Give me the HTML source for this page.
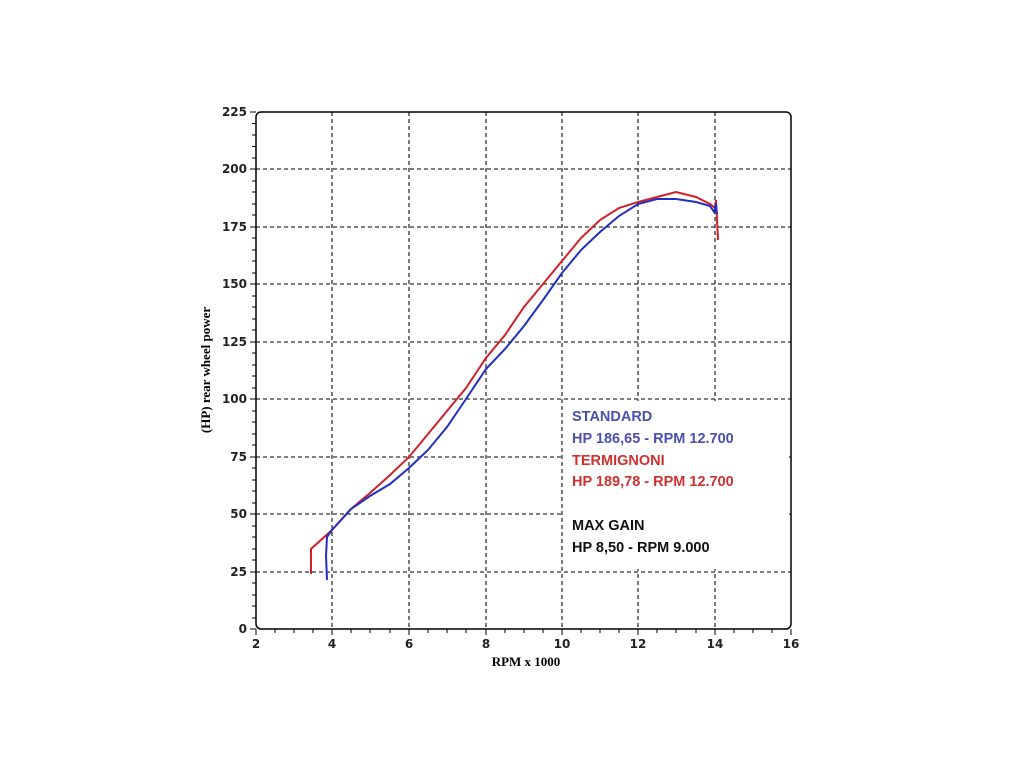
<!DOCTYPE html>
<html><head><meta charset="utf-8"><style>body{margin:0;background:#fff}svg{display:block}</style></head><body>
<svg width="1024" height="768" xmlns="http://www.w3.org/2000/svg" font-family="'DejaVu Sans','Liberation Sans',sans-serif">
<rect width="1024" height="768" fill="#fff"/>
<g stroke="#333" stroke-width="1.3" stroke-dasharray="4,3">
<line x1="332" y1="112" x2="332" y2="629"/><line x1="409" y1="112" x2="409" y2="629"/><line x1="486" y1="112" x2="486" y2="629"/><line x1="562" y1="112" x2="562" y2="629"/><line x1="638" y1="112" x2="638" y2="629"/><line x1="715" y1="112" x2="715" y2="629"/>
<line x1="256" y1="169" x2="791" y2="169"/><line x1="256" y1="227" x2="791" y2="227"/><line x1="256" y1="284" x2="791" y2="284"/><line x1="256" y1="342" x2="791" y2="342"/><line x1="256" y1="399" x2="791" y2="399"/><line x1="256" y1="457" x2="791" y2="457"/><line x1="256" y1="514" x2="791" y2="514"/><line x1="256" y1="572" x2="791" y2="572"/>
</g>
<rect x="564" y="401" width="225" height="168" fill="#fff"/>
<rect x="256" y="112" width="535" height="517" rx="5" fill="none" stroke="#000" stroke-width="1.5"/>
<g stroke="#000" stroke-width="1">
<path d="M250 112h6M250 169h6M250 227h6M250 284h6M250 342h6M250 399h6M250 457h6M250 514h6M250 572h6M250 629h6"/>
<path d="M252 123.5h4M252 135h4M252 146.5h4M252 158h4M252 181h4M252 192h4M252 204h4M252 215h4M252 238h4M252 250h4M252 261h4M252 273h4M252 296h4M252 307h4M252 319h4M252 330h4M252 353h4M252 365h4M252 376h4M252 388h4M252 411h4M252 422h4M252 434h4M252 445h4M252 468h4M252 480h4M252 491h4M252 503h4M252 526h4M252 537h4M252 549h4M252 560h4M252 583h4M252 595h4M252 606h4M252 618h4"/>
<path d="M256 629v6M332 629v6M409 629v6M486 629v6M562 629v6M638 629v6M715 629v6M791 629v6"/>
<path d="M275 629v4M294 629v4M313 629v4M351 629v4M370 629v4M390 629v4M428 629v4M447 629v4M466 629v4M505 629v4M524 629v4M543 629v4M581 629v4M600 629v4M619 629v4M657 629v4M676 629v4M696 629v4M734 629v4M753 629v4M772 629v4"/>
</g>
<g font-size="12" font-weight="bold" text-anchor="end" fill="#222">
<text x="247" y="116">225</text><text x="247" y="173">200</text><text x="247" y="231">175</text><text x="247" y="288">150</text><text x="247" y="346">125</text><text x="247" y="403">100</text><text x="247" y="461">75</text><text x="247" y="518">50</text><text x="247" y="576">25</text><text x="247" y="633">0</text>
</g>
<g font-size="12" font-weight="bold" text-anchor="middle" fill="#222">
<text x="256" y="648">2</text><text x="332" y="648">4</text><text x="409" y="648">6</text><text x="486" y="648">8</text><text x="562" y="648">10</text><text x="638" y="648">12</text><text x="715" y="648">14</text><text x="791" y="648">16</text>
</g>
<text x="526" y="666" font-family="'Liberation Serif',serif" font-size="13" font-weight="bold" text-anchor="middle">RPM x 1000</text>
<text transform="translate(210,370) rotate(-90)" font-family="'Liberation Serif',serif" font-size="13" font-weight="bold" text-anchor="middle">(HP) rear wheel power</text>
<polyline fill="none" stroke="#d0202a" stroke-width="2" points="311,574 311,549 332,530 351,509 370,493 390,475 409,457 428,434 447,411 466,388 486,358 505,335 524,307 543,284 562,261 581,238 600,220 619,208 638,202 657,197 676,192 696,197 710,204 715,208 716,200 718,240"/>
<polyline fill="none" stroke="#2030c0" stroke-width="2" points="327,580 326,556 327,537 332,530 351,509 370,496 390,484 409,468 428,450 447,427 466,399 486,369 505,349 524,326 543,300 562,273 581,250 600,232 619,216 638,204 657,199 676,199 696,202 710,206 714,212 716,204 717,214"/>
<g font-family="'Liberation Sans',sans-serif" font-size="14.5" font-weight="bold">
<text x="572" y="421" fill="#4a4fb0">STANDARD</text>
<text x="572" y="443" fill="#4a4fb0">HP 186,65 - RPM 12.700</text>
<text x="572" y="465" fill="#d03030">TERMIGNONI</text>
<text x="572" y="486" fill="#d03030">HP 189,78 - RPM 12.700</text>
<text x="572" y="530" fill="#111">MAX GAIN</text>
<text x="572" y="552" fill="#111">HP 8,50 - RPM 9.000</text>
</g>
</svg>
</body></html>
